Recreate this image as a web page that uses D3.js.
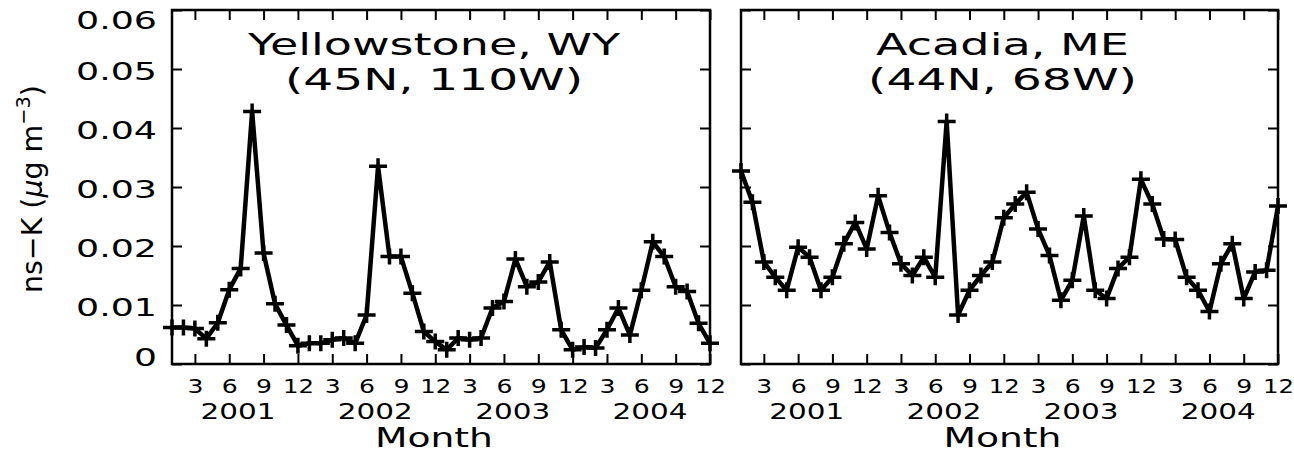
<!DOCTYPE html>
<html><head><meta charset="utf-8">
<script src="https://cdn.jsdelivr.net/npm/d3@7/dist/d3.min.js"></script>
<style>body{margin:0;background:#fff;} svg{display:block;}</style>
</head><body>
<svg id="chart" width="1294" height="453"></svg>
<script>
// ---------- data ----------
const months = d3.range(1, 49);
const monthTicks = d3.range(3, 49, 3);
const monthTickLabels = ["3","6","9","12","3","6","9","12","3","6","9","12","3","6","9","12"];
const years = ["2001", "2002", "2003", "2004"];
const yTicks = [0, 0.01, 0.02, 0.03, 0.04, 0.05, 0.06];
const yTickLabels = ["0", "0.01", "0.02", "0.03", "0.04", "0.05", "0.06"];
const yellowstone = [
  0.0062, 0.0062, 0.0060, 0.0043, 0.0070, 0.0126, 0.0162, 0.0428, 0.0188, 0.0102, 0.0066, 0.0031,
  0.0035, 0.0035, 0.0041, 0.0044, 0.0035, 0.0083, 0.0335, 0.0182, 0.0182, 0.0120, 0.0055, 0.0038,
  0.0024, 0.0044, 0.0041, 0.0044, 0.0095, 0.0106, 0.0178, 0.0131, 0.0139, 0.0173, 0.0058, 0.0024,
  0.0029, 0.0027, 0.0058, 0.0095, 0.0049, 0.0125, 0.0207, 0.0182, 0.0131, 0.0123, 0.0069, 0.0035
];
const acadia = [
  0.0327, 0.0274, 0.0173, 0.0147, 0.0125, 0.0198, 0.0181, 0.0125, 0.0147, 0.0204, 0.0240, 0.0195,
  0.0285, 0.0223, 0.0170, 0.0150, 0.0181, 0.0147, 0.0411, 0.0083, 0.0125, 0.0150, 0.0173, 0.0248,
  0.0271, 0.0291, 0.0229, 0.0184, 0.0108, 0.0142, 0.0251, 0.0125, 0.0111, 0.0162, 0.0181, 0.0313,
  0.0271, 0.0212, 0.0211, 0.0147, 0.0125, 0.0089, 0.0170, 0.0204, 0.0111, 0.0156, 0.0159, 0.0268
];
const titleLine1 = ["Yellowstone, WY", "Acadia, ME"];
const titleLine2 = ["(45N, 110W)", "(44N, 68W)"];
const xAxisTitle = "Month";

// ---------- layout ----------
const FONT = "'DejaVu Sans', 'Liberation Sans', sans-serif";
const svg = d3.select("#chart");
const plotTop = 10, plotBottom = 364;
const panels = [
  {x0: 172, x1: 710, data: yellowstone, t1w: 372, t2w: 298, showY: true},
  {x0: 741, x1: 1278, data: acadia, t1w: 253, t2w: 269, showY: false}
];
const y = d3.scaleLinear().domain([0, 0.06]).range([plotBottom, plotTop]);

function stretch(sel, w) {
  sel.attr("textLength", w).attr("lengthAdjust", "spacingAndGlyphs");
}

panels.forEach((p, i) => {
  const x = d3.scaleLinear().domain([1, 48]).range([p.x0, p.x1]);
  const g = svg.append("g");
  const cx = (p.x0 + p.x1) / 2 - 7;

  // axes (ticks inward)
  const ya = g.append("g").attr("transform", `translate(${p.x0},0)`)
    .call(d3.axisLeft(y).tickValues(yTicks).tickSizeInner(-10).tickSizeOuter(0).tickPadding(15)
      .tickFormat((d, k) => p.showY ? yTickLabels[k] : ""));
  g.append("g").attr("transform", `translate(${p.x1},0)`)
    .call(d3.axisRight(y).tickValues(yTicks).tickSizeInner(-10).tickSizeOuter(0).tickFormat(""));
  const xa = g.append("g").attr("transform", `translate(0,${plotBottom})`)
    .call(d3.axisBottom(x).tickValues(monthTicks).tickSizeInner(-10).tickSizeOuter(0)
      .tickFormat((d, k) => monthTickLabels[k]));
  g.append("g").attr("transform", `translate(0,${plotTop})`)
    .call(d3.axisTop(x).tickValues(monthTicks).tickSizeInner(-10).tickSizeOuter(0).tickFormat(""));

  g.selectAll(".domain").remove();
  g.selectAll(".tick line").attr("stroke", "#000").attr("stroke-width", 2);
  g.selectAll(".tick text").attr("fill", "#000").attr("font-family", FONT);

  // y labels
  if (p.showY) {
    ya.selectAll(".tick text")
      .attr("font-size", 24)
      .attr("dy", d => d === 0.06 ? 18 : (d === 0 ? 1 : 10))
      .each(function(d) { stretch(d3.select(this), d === 0 ? 23 : 81); });
  }

  // x labels
  xa.selectAll(".tick text")
    .attr("font-size", 19.5)
    .attr("y", 29).attr("dy", 0)
    .each(function(d, k) { stretch(d3.select(this), monthTickLabels[k].length > 1 ? 31 : 16); });

  // year labels
  g.selectAll(".year").data(years).join("text")
    .attr("class", "year")
    .attr("x", (d, k) => x(6.5 + 12 * k) + 3)
    .attr("y", 419)
    .attr("text-anchor", "middle")
    .attr("font-family", FONT).attr("font-size", 22).attr("fill", "#000")
    .text(d => d)
    .call(stretch, 75);

  // Month title
  g.append("text")
    .attr("x", cx).attr("y", 447)
    .attr("text-anchor", "middle")
    .attr("font-family", FONT).attr("font-size", 27).attr("fill", "#000")
    .text(xAxisTitle)
    .call(stretch, 118);

  // panel titles
  g.append("text")
    .attr("x", cx).attr("y", 55)
    .attr("text-anchor", "middle")
    .attr("font-family", FONT).attr("font-size", 30).attr("fill", "#000")
    .text(titleLine1[i])
    .call(stretch, p.t1w);
  g.append("text")
    .attr("x", cx).attr("y", 90)
    .attr("text-anchor", "middle")
    .attr("font-family", FONT).attr("font-size", 30).attr("fill", "#000")
    .text(titleLine2[i])
    .call(stretch, p.t2w);

  // data line
  const line = d3.line().x((d, k) => x(months[k])).y(d => y(d));
  g.append("path")
    .datum(p.data)
    .attr("d", line)
    .attr("fill", "none")
    .attr("stroke", "#000")
    .attr("stroke-width", 4.5)
    .attr("stroke-linejoin", "round");

  // plus markers
  g.selectAll(".mk").data(p.data).join("path")
    .attr("class", "mk")
    .attr("transform", (d, k) => `translate(${x(months[k])},${y(d)})`)
    .attr("d", "M-9,0H9M0,-8V8")
    .attr("stroke", "#000")
    .attr("stroke-width", 3.5)
    .attr("fill", "none");

  // frame
  g.append("rect")
    .attr("x", p.x0).attr("y", plotTop)
    .attr("width", p.x1 - p.x0).attr("height", plotBottom - plotTop)
    .attr("fill", "none").attr("stroke", "#000").attr("stroke-width", 2.5);
});

// y-axis title (rotated)
const yt = svg.append("text")
  .attr("text-anchor", "middle")
  .attr("font-family", FONT).attr("font-size", 22).attr("fill", "#000");
yt.append("tspan").text("ns\u2212K (");
yt.append("tspan").attr("font-style", "italic").text("\u03bc");
yt.append("tspan").text("g m");
yt.append("tspan").attr("font-size", 15).attr("dy", -9).text("\u22123");
yt.append("tspan").attr("dy", 9).text(")");
const natural = yt.node().getComputedTextLength();
const a = 208 / natural;
yt.attr("transform", `translate(42,189) rotate(-90) scale(${a},1.3)`);
</script>
</body></html>
